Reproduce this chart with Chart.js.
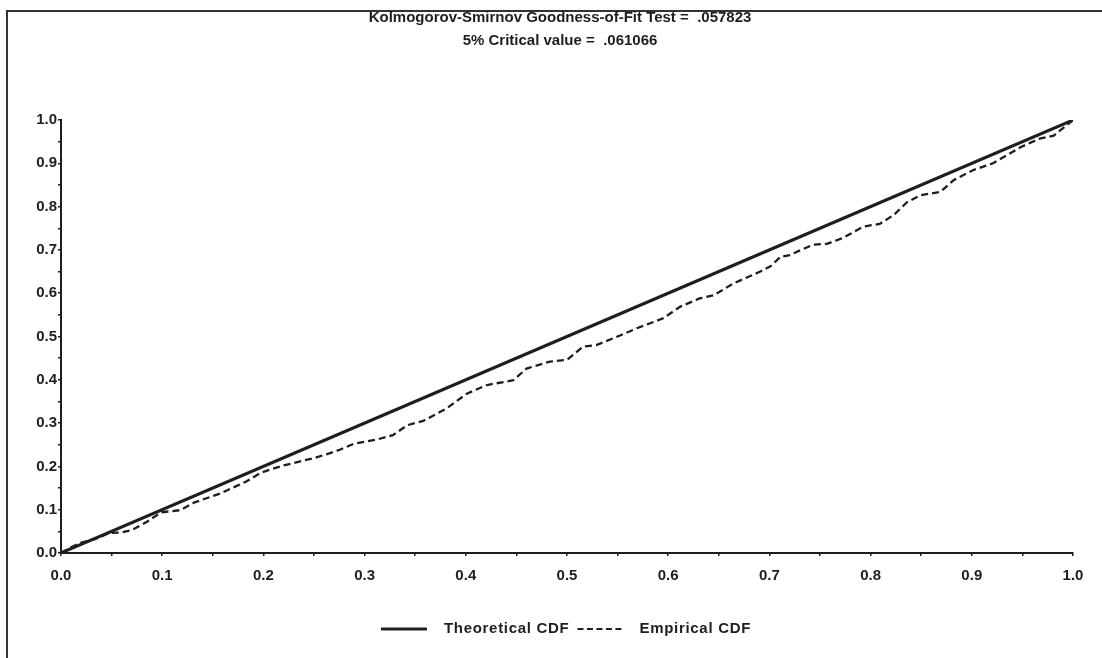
<!DOCTYPE html>
<html>
<head>
<meta charset="utf-8">
<title>KS goodness of fit</title>
<script src="https://cdn.jsdelivr.net/npm/chart.js@4/dist/chart.umd.min.js"></script>
<style>
    html, body { margin: 0; padding: 0; background: #fff; overflow: hidden; }
    #wrap { position: relative; width: 1102px; height: 658px; }
</style>
</head>
<body>
<div id="wrap"><canvas id="ks" width="1102" height="658"></canvas></div>
<script>
// Theoretical CDF (uniform) and the empirical step-ish CDF
const theoX = [0.0, 0.25, 0.5, 0.75, 1.0];
const theoY = [0.0, 0.25, 0.5, 0.75, 1.0];

const empX = [0.0, 0.009, 0.02, 0.035, 0.047, 0.058, 0.07, 0.085, 0.099, 0.118,
    0.132, 0.157, 0.183, 0.198, 0.218, 0.251, 0.265, 0.276, 0.289, 0.312,
    0.328, 0.342, 0.358, 0.381, 0.401, 0.421, 0.447, 0.46, 0.483, 0.5,
    0.516, 0.529, 0.553, 0.569, 0.595, 0.612, 0.631, 0.645, 0.664, 0.691,
    0.701, 0.711, 0.72, 0.743, 0.757, 0.773, 0.793, 0.809, 0.823, 0.836,
    0.849, 0.869, 0.882, 0.902, 0.921, 0.935, 0.948, 0.967, 0.981, 1.0];
const empY = [0.0, 0.012, 0.024, 0.033, 0.046, 0.047, 0.053, 0.072, 0.094, 0.099,
    0.117, 0.137, 0.165, 0.186, 0.201, 0.22, 0.23, 0.239, 0.252, 0.262,
    0.272, 0.295, 0.305, 0.334, 0.368, 0.388, 0.399, 0.426, 0.442, 0.446,
    0.477, 0.48, 0.503, 0.519, 0.542, 0.569, 0.588, 0.595, 0.622, 0.65,
    0.662, 0.684, 0.688, 0.712, 0.714, 0.728, 0.754, 0.76, 0.781, 0.81,
    0.826, 0.834, 0.861, 0.885, 0.9, 0.919, 0.937, 0.957, 0.964, 1.0];

const titleLines = ['Kolmogorov-Smirnov Goodness-of-Fit Test =  .057823', '5% Critical value =  .061066'];
const seriesNames = ['Theoretical CDF', 'Empirical CDF'];

const INK = '#1e1e1e';
const FONT = '"Liberation Sans", Arial, Helvetica, sans-serif';
const FRAME_LEFT = 7;
const FRAME_TOP = 11;

const toPoints = (xs, ys) => xs.map((x, i) => ({ x, y: ys[i] }));

// outer frame (left and top edges visible) plus the two title lines,
// centred on the frame which runs a little past the right edge
const framePlugin = {
    id: 'frame',
    beforeDraw(chart) {
        const ctx = chart.ctx;
        ctx.save();
        ctx.strokeStyle = '#333';
        ctx.lineWidth = 2;
        ctx.beginPath();
        ctx.moveTo(FRAME_LEFT, chart.height);
        ctx.lineTo(FRAME_LEFT, FRAME_TOP);
        ctx.lineTo(chart.width, FRAME_TOP);
        ctx.stroke();

        const cx = (FRAME_LEFT + chart.width + 11) / 2;
        ctx.font = 'bold 15px ' + FONT;
        ctx.fillStyle = INK;
        ctx.textAlign = 'center';
        ctx.textBaseline = 'middle';
        ctx.fillText(titleLines[0], cx, 18);
        ctx.fillText(titleLines[1], cx, 41);
        ctx.restore();
    }
};

// line-sample legend under the x axis
const legendPlugin = {
    id: 'cdfLegend',
    afterDraw(chart) {
        const ctx = chart.ctx;
        const area = chart.chartArea;
        const y = 629;
        ctx.save();
        ctx.font = 'bold 15px ' + FONT;
        ctx.letterSpacing = '0.7px';
        ctx.fillStyle = INK;
        ctx.textBaseline = 'middle';
        const w1 = ctx.measureText(seriesNames[0]).width;
        const w2 = ctx.measureText(seriesNames[1]).width;
        const total = 46 + 17 + w1 + 8 + 44 + 18 + w2;
        let x = (area.left + area.right) / 2 - total / 2 - 1;

        ctx.strokeStyle = INK;
        ctx.lineWidth = 3;
        ctx.beginPath();
        ctx.moveTo(x, y);
        ctx.lineTo(x + 46, y);
        ctx.stroke();
        x += 46 + 17;
        ctx.fillText(seriesNames[0], x, y);
        x += w1 + 8;

        ctx.lineWidth = 2;
        ctx.setLineDash([6, 3.5]);
        ctx.beginPath();
        ctx.moveTo(x, y);
        ctx.lineTo(x + 44, y);
        ctx.stroke();
        ctx.setLineDash([]);
        x += 44 + 18;
        ctx.fillText(seriesNames[1], x, y);
        ctx.restore();
    }
};

const tickLabel = (value) => {
    const n = Math.round(value * 100);
    return n % 10 === 0 ? (n / 100).toFixed(1) : '';
};

const axisCommon = {
    type: 'linear',
    min: 0,
    max: 1,
    border: { color: INK, width: 2 },
    grid: {
        drawOnChartArea: false,
        drawTicks: true,
        tickLength: 3,
        color: INK,
        lineWidth: 1.5
    },
    ticks: {
        stepSize: 0.05,
        autoSkip: false,
        maxRotation: 0,
        color: INK,
        font: { family: FONT, size: 15, weight: 'bold' },
        callback: tickLabel
    }
};

new Chart(document.getElementById('ks'), {
    type: 'scatter',
    data: {
        datasets: [
            {
                label: seriesNames[0],
                data: toPoints(theoX, theoY),
                showLine: true,
                borderColor: INK,
                borderWidth: 3,
                pointRadius: 0,
                tension: 0
            },
            {
                label: seriesNames[1],
                data: toPoints(empX, empY),
                showLine: true,
                borderColor: INK,
                borderWidth: 2.3,
                borderDash: [7, 4],
                pointRadius: 0,
                tension: 0
            }
        ]
    },
    options: {
        responsive: false,
        devicePixelRatio: 1,
        animation: false,
        layout: { padding: { left: 30, right: 29, top: 120, bottom: 0 } },
        plugins: {
            legend: { display: false },
            tooltip: { enabled: false },
            title: { display: false }
        },
        scales: {
            x: {
                ...axisCommon,
                ticks: { ...axisCommon.ticks, padding: 11 },
                afterFit: (scale) => { scale.height = 105; }
            },
            y: {
                ...axisCommon,
                ticks: { ...axisCommon.ticks, padding: 1 },
                afterFit: (scale) => { scale.width = 31; }
            }
        }
    },
    plugins: [framePlugin, legendPlugin]
});
</script>
</body>
</html>
